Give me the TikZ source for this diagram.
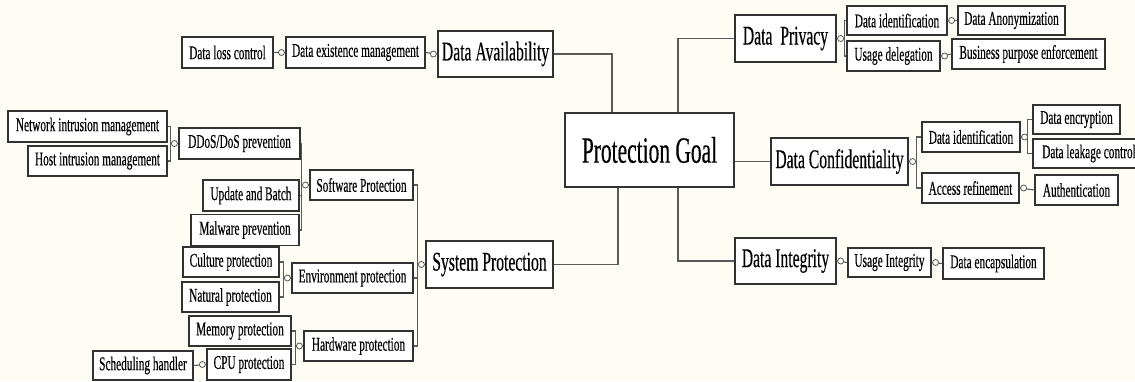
\documentclass[tikz,border=0pt]{standalone}
\usepackage{fontspec}
\setmainfont{Liberation Serif}[FakeStretch=0.58,FakeBold=0.3]
\usetikzlibrary{calc}
\definecolor{bgc}{RGB}{253,253,245}
\definecolor{linec}{RGB}{90,90,90}
\definecolor{boxc}{RGB}{50,50,50}
\begin{document}
\begin{tikzpicture}[x=1pt,y=-1pt,
  box/.style={draw=boxc, line width=1.2pt, fill=white, inner sep=0pt, align=center},
  sbox/.style={box, font=\fontsize{19.5}{20}\selectfont},
  mbox/.style={box, font=\fontsize{27}{28}\selectfont},
  lbox/.style={box, font=\fontsize{37}{38}\selectfont},
  conn/.style={draw=linec, line width=1.1pt},
  knob/.style={circle, draw=linec, line width=0.8pt, fill=bgc, inner sep=0pt, minimum size=6pt}
]
\fill[bgc] (0,0) rectangle (1135,381);
\useasboundingbox (0,0) rectangle (1135,381);

% main nodes
\node[lbox, minimum width=169pt, minimum height=74pt] (pg) at (649.5,150) {Protection Goal};
\node[mbox, minimum width=115pt, minimum height=46pt] (dav) at (495.5,54) {Data Availability};
\node[mbox, minimum width=127pt, minimum height=47pt] (syp) at (489.5,264.5) {System Protection};
\node[mbox, minimum width=101pt, minimum height=47pt] (dpr) at (785.5,38.5) {Data\ \ Privacy};
\node[mbox, minimum width=137pt, minimum height=47pt] (dcf) at (839.5,161.5) {Data Confidentiality};
\node[mbox, minimum width=101pt, minimum height=46pt] (dint) at (785.5,261) {Data Integrity};

% left side small boxes
\node[sbox, minimum width=91pt, minimum height=31pt] (dlc) at (227.5,52.5) {Data loss control};
\node[sbox, minimum width=139pt, minimum height=31pt] (dem) at (355.5,52.5) {Data existence management};
\node[sbox, minimum width=159pt, minimum height=31pt] (nim) at (87.5,126.5) {Network intrusion management};
\node[sbox, minimum width=139pt, minimum height=30pt] (him) at (97.5,161) {Host intrusion management};
\node[sbox, minimum width=121pt, minimum height=31pt] (ddos) at (239.5,143.5) {DDoS/DoS prevention};
\node[sbox, minimum width=96pt, minimum height=31pt] (upd) at (251,195.5) {Update and Batch};
\node[sbox, minimum width=108pt, minimum height=31pt] (mal) at (245,230) {Malware prevention};
\node[sbox, minimum width=103pt, minimum height=30pt] (swp) at (361.5,185) {Software Protection};
\node[sbox, minimum width=96pt, minimum height=30pt] (cul) at (231,262) {Culture protection};
\node[sbox, minimum width=97pt, minimum height=30pt] (nat) at (230.5,297) {Natural protection};
\node[sbox, minimum width=121pt, minimum height=30pt] (env) at (352.5,278) {Environment protection};
\node[sbox, minimum width=102pt, minimum height=30pt] (mem) at (240,331) {Memory protection};
\node[sbox, minimum width=84pt, minimum height=31pt] (cpu) at (249,364.5) {CPU protection};
\node[sbox, minimum width=109pt, minimum height=30pt] (hw) at (358.5,346) {Hardware protection};
\node[sbox, minimum width=100pt, minimum height=29pt] (sch) at (143,365.5) {Scheduling handler};

% right side small boxes
\node[sbox, minimum width=100pt, minimum height=29pt] (dia) at (897,20.5) {Data identification};
\node[sbox, minimum width=107pt, minimum height=29pt] (anon) at (1011.5,20.5) {Data Anonymization};
\node[sbox, minimum width=93pt, minimum height=30pt] (usd) at (893.5,56) {Usage delegation};
\node[sbox, minimum width=153pt, minimum height=30pt] (bpe) at (1028.5,54) {Business purpose enforcement};
\node[sbox, minimum width=98pt, minimum height=30pt] (dib) at (971,137) {Data identification};
\node[sbox, minimum width=87pt, minimum height=29pt] (enc) at (1076.5,119.5) {Data encryption};
\node[sbox, minimum width=112pt, minimum height=29pt] (leak) at (1089,153.5) {Data leakage control};
\node[sbox, minimum width=97pt, minimum height=30pt] (acc) at (970.5,188) {Access refinement};
\node[sbox, minimum width=83pt, minimum height=30pt] (auth) at (1076.5,190) {Authentication};
\node[sbox, minimum width=83pt, minimum height=29pt] (ui) at (889.5,262.5) {Usage Integrity};
\node[sbox, minimum width=101pt, minimum height=31pt] (enca) at (993.5,263.5) {Data encapsulation};

% connectors from the goal
\draw[conn] (dav.east) -| (pg.north -| 612,0);
\draw[conn] (pg.north -| 678,0) |- (dpr.west);
\draw[conn] (dcf.west -| pg.east) -- (dcf.west);
\draw[conn] (syp.east) -| (pg.south -| 618,0);
\draw[conn] (pg.south -| 678,0) |- (dint.west);

% ---- left trees ----
\draw[conn] (dem.east) -- (dav.west);
\draw[conn] (dlc.east) -- (dem.west);
\draw[conn] (sch.east) -- (cpu.west);
\coordinate (ddosv) at ($(ddos.west)+(-8,0)$);
\draw[conn] (nim.east) -| (ddosv) |- (him.east);
\draw[conn] (ddosv) -- (ddos.west);
\coordinate (swpv) at ($(swp.west)+(-8,0)$);
\draw[conn] (ddos.east) -| (swpv) |- (mal.east);
\draw[conn] (upd.east) -- (upd.east -| swpv);
\draw[conn] (swpv) -- (swp.west);
\coordinate (envv) at ($(env.west)+(-8,0)$);
\draw[conn] (cul.east) -| (envv) |- (nat.east);
\draw[conn] (envv) -- (env.west);
\coordinate (hwv) at ($(hw.west)+(-8,0)$);
\draw[conn] (mem.east) -| (hwv) |- (cpu.east);
\draw[conn] (hwv) -- (hw.west);
\coordinate (sypv) at ($(syp.west)+(-8,0)$);
\draw[conn] (swp.east) -| (sypv) |- (hw.east);
\draw[conn] (env.east) -- (env.east -| sypv);
\draw[conn] (sypv) -- (syp.west);

% ---- right trees ----
\coordinate (dprv) at ($(dpr.east)+(8,0)$);
\draw[conn] (dia.west) -| (dprv) |- (usd.west);
\draw[conn] (dpr.east) -- (dprv);
\draw[conn] (dia.east) -- (anon.west);
\draw[conn] (usd.east) -- (bpe.west);
\coordinate (dcfv) at ($(dcf.east)+(8,0)$);
\draw[conn] (dib.west) -| (dcfv) |- (acc.west);
\draw[conn] (dcf.east) -- (dcfv);
\coordinate (dibv) at ($(dib.east)+(7,0)$);
\draw[conn] (enc.west) -| (dibv) |- (leak.west);
\draw[conn] (dib.east) -- (dibv);
\draw[conn] (acc.east) -- (auth.west);
\draw[conn] (dint.east) -- (ui.west);
\draw[conn] (ui.east) -- (enca.west);

% knobs
\node[knob] (k1) at ($(dav.west)+(-4,0)$) {};
\node[knob] (k2) at ($(dem.west)+(-4,0)$) {};
\node[knob] (k3) at ($(ddos.west)+(-4,0)$) {};
\node[knob] (k4) at ($(swp.west)+(-4,0)$) {};
\node[knob] (k5) at ($(env.west)+(-4,0)$) {};
\node[knob] (k6) at ($(hw.west)+(-4,0)$) {};
\node[knob] (k7) at ($(cpu.west)+(-4,0)$) {};
\node[knob] (k8) at ($(syp.west)+(-4,0)$) {};
\node[knob] (k9) at ($(dpr.east)+(4,0)$) {};
\node[knob] (k10) at ($(dia.east)+(4,0)$) {};
\node[knob] (k11) at ($(usd.east)+(4,0)$) {};
\node[knob] (k12) at ($(dcf.east)+(4,0)$) {};
\node[knob] (k13) at ($(dib.east)+(4,0)$) {};
\node[knob] (k14) at ($(acc.east)+(4,0)$) {};
\node[knob] (k15) at ($(dint.east)+(4,0)$) {};
\node[knob] (k16) at ($(ui.east)+(4,0)$) {};
\end{tikzpicture}
\end{document}
